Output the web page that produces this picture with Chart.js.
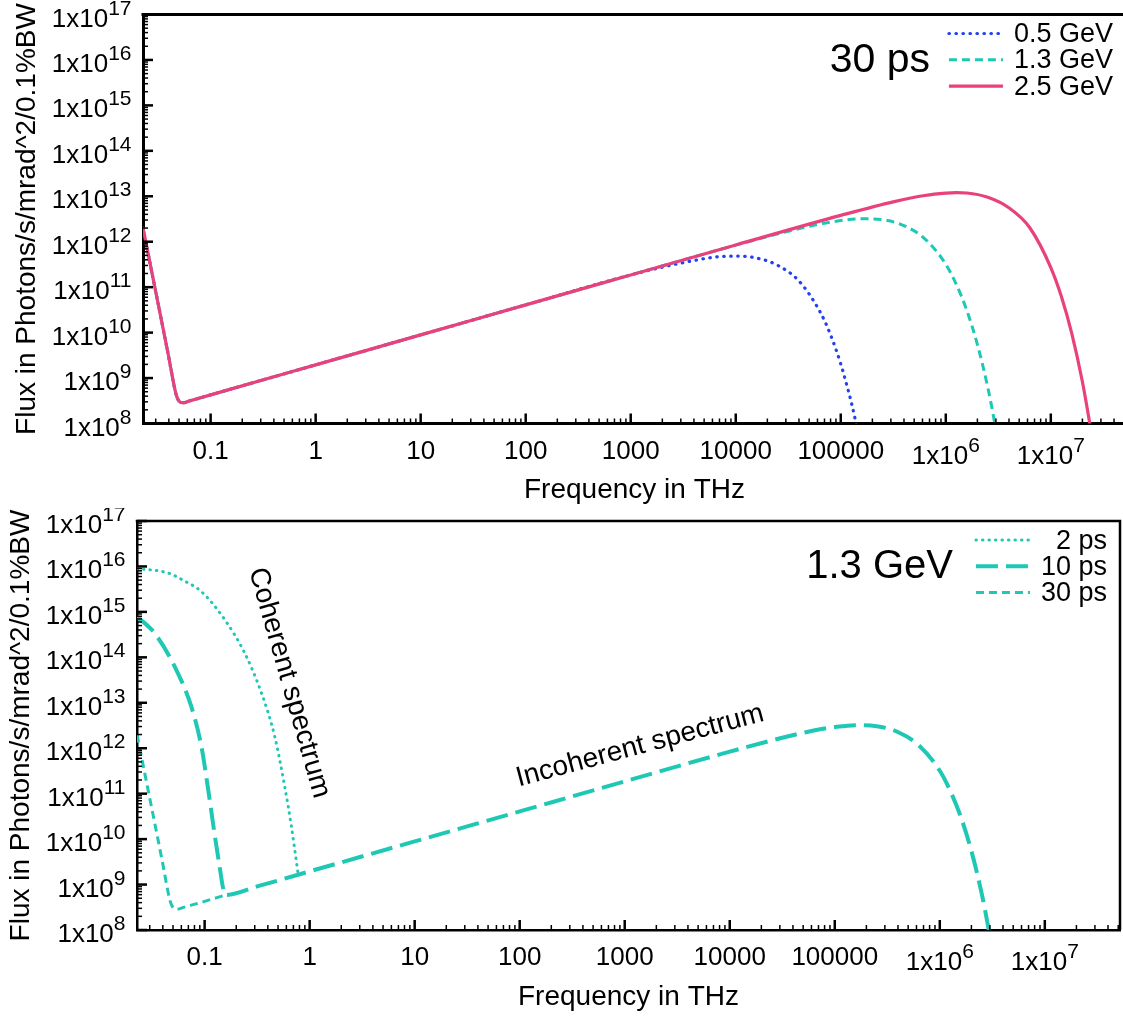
<!DOCTYPE html>
<html>
<head>
<meta charset="utf-8">
<script src="https://cdn.jsdelivr.net/npm/chart.js@4.4.1/dist/chart.umd.min.js"></script>
<style>
  html, body { margin: 0; padding: 0; background: #fff; overflow: hidden; }
  canvas { display: block; position: absolute; left: 0; }
  #top { top: 0; }
  #bottom { top: 508px; }
</style>
</head>
<body>
<canvas id="top" width="1130" height="508"></canvas>
<canvas id="bottom" width="1123" height="508"></canvas>
<script>
const FONT = "'Liberation Sans', Arial, sans-serif";

// frequency range shared by both panels (THz)
const freqMin = 0.0227;
const freqMax = 5.2e7;

const xTickValues = [0.1, 1, 10, 100, 1000, 1e4, 1e5, 1e6, 1e7];
const xTickLabels = ['0.1', '1', '10', '100', '1000', '10000', '100000', '1x10^6', '1x10^7'];
const yTickValues = [1e8, 1e9, 1e10, 1e11, 1e12, 1e13, 1e14, 1e15, 1e16, 1e17];
const yTickLabels = ['1x10^8', '1x10^9', '1x10^10', '1x10^11', '1x10^12', '1x10^13',
                     '1x10^14', '1x10^15', '1x10^16', '1x10^17'];

// 30 ps bunch: coherent drop, then start of the incoherent line
const lowFreq30ps = [0.0227, 0.0293, 0.0392, 0.0471, 0.0501, 0.0545, 0.0631, 0.1];
const lowFlux30ps = [2.0e12, 1.05e11, 3.6e9, 4.2e8, 3.1e8, 2.86e8, 3.15e8, 4.27e8];

// incoherent power law, same for every energy
const lineFreq = [1, 10, 100, 1000];
const lineFlux = [1.95e9, 8.9e9, 4.07e10, 1.86e11];

// high frequency bend for each energy
const bendFreq05 = [3162, 6310, 1e4, 15850, 25120, 39810, 63100, 79430, 1e5, 112200, 125900, 140000, 158500];
const bendFlux05 = [3.47e11, 4.57e11, 4.84e11, 4.37e11, 3.02e11, 1.38e11, 2.95e10, 9.3e9, 2.04e9, 8.1e8, 2.95e8, 1e8, 2.4e7];

const bendFreq13 = [1e4, 31620, 63100, 1e5, 158500, 251200, 398100, 631000, 1e6, 1.259e6, 1.585e6, 1.995e6, 2.512e6, 2.93e6, 3.16e6];
const bendFlux13 = [8.4e11, 1.7e12, 2.45e12, 2.92e12, 3.21e12, 3.05e12, 2.27e12, 1.16e12, 3.19e11, 1.15e11, 3.09e10, 5.6e9, 6.2e8, 1e8, 3.6e7];

const bendFreq25 = [1e4, 1e5, 316200, 631000, 1e6, 1.259e6, 1.585e6, 2.512e6, 3.98e6, 6.31e6, 1e7, 1.259e7, 1.585e7, 1.995e7, 2.35e7, 2.51e7];
const bendFlux25 = [8.5e11, 3.8e12, 7.55e12, 1.04e13, 1.17e13, 1.2e13, 1.18e13, 9.5e12, 5.6e12, 2.03e12, 2.7e11, 6.3e10, 9.5e9, 8.5e8, 1e8, 3.8e7];

// 1.3 GeV, shorter bunches
const cohFreq2ps = [0.0227, 0.0447, 0.0631, 0.0931, 0.155, 0.24, 0.347, 0.465, 0.578, 0.67, 0.778];
const cohFlux2ps = [9e15, 7.2e15, 4.9e15, 2.8e15, 6.8e14, 1.26e14, 1.66e13, 1.82e12, 1.45e11, 1.9e10, 1.65e9];

const cohFreq10ps = [0.0227, 0.0334, 0.0518, 0.0746, 0.0931, 0.107, 0.124, 0.139, 0.149, 0.158, 0.316];
const cohFlux10ps = [7.9e14, 3.4e14, 6.3e13, 8.3e12, 1.1e12, 1.45e11, 1.35e10, 2.45e9, 8.9e8, 5.9e8, 9.1e8];

const tailFreq30ps = [0.158];
const tailFlux30ps = [5.9e8];

const BLUE = '#2340f2';
const CYAN = '#1ec8b4';
const PINK = '#e8417b';

function pts(xs, ys) {
  return xs.map((x, i) => ({x: x, y: ys[i]}));
}

function logTicks(min, max) {
  const out = [];
  for (let e = Math.floor(Math.log10(min)); e <= Math.ceil(Math.log10(max)); e++) {
    for (let k = 1; k < 10; k++) {
      const v = k * Math.pow(10, e);
      if (v >= min && v <= max) out.push({value: v, major: k === 1});
    }
  }
  return out;
}

// "1x10^6" -> base text plus raised exponent
function drawLabel(ctx, text, px, baseY, align) {
  const parts = text.split('^');
  ctx.font = '26px ' + FONT;
  const wb = ctx.measureText(parts[0]).width;
  let we = 0;
  if (parts[1]) {
    ctx.font = '21px ' + FONT;
    we = ctx.measureText(parts[1]).width;
  }
  const x0 = align === 'right' ? px - wb - we : px - (wb + we) / 2;
  ctx.textAlign = 'left';
  ctx.textBaseline = 'alphabetic';
  ctx.font = '26px ' + FONT;
  ctx.fillText(parts[0], x0, baseY);
  if (parts[1]) {
    ctx.font = '21px ' + FONT;
    ctx.fillText(parts[1], x0 + wb, baseY - 12);
  }
}

const decor = {
  id: 'decor',
  afterDraw(chart, args, o) {
    const ctx = chart.ctx;
    const a = chart.chartArea;
    const xs = chart.scales.x;
    const ys = chart.scales.y;
    ctx.save();
    ctx.strokeStyle = '#000';
    ctx.fillStyle = '#000';

    ctx.lineWidth = o.frame;
    ctx.beginPath();
    ctx.moveTo(a.left - o.frame / 2, a.top);
    ctx.lineTo(a.right, a.top);
    ctx.lineTo(a.right, a.bottom);
    ctx.stroke();

    // ticks point into the plot
    for (const t of xs.ticks) {
      const p = xs.getPixelForValue(t.value);
      ctx.lineWidth = t.major ? 2.5 : 1.5;
      ctx.beginPath();
      ctx.moveTo(p, a.bottom);
      ctx.lineTo(p, a.bottom - (t.major ? 10 : 5));
      ctx.stroke();
    }
    for (const t of ys.ticks) {
      const p = ys.getPixelForValue(t.value);
      ctx.lineWidth = t.major ? 2.5 : 1.5;
      ctx.beginPath();
      ctx.moveTo(a.left, p);
      ctx.lineTo(a.left + (t.major ? 10 : 5), p);
      ctx.stroke();
    }

    xTickValues.forEach((v, i) => {
      const lab = xTickLabels[i];
      drawLabel(ctx, lab, xs.getPixelForValue(v), a.bottom + (lab.includes('^') ? 40 : 35), 'center');
    });
    yTickValues.forEach((v, i) => {
      drawLabel(ctx, yTickLabels[i], a.left - 11.5, ys.getPixelForValue(v) + 12, 'right');
    });

    // panel tag
    ctx.font = o.tagSize + 'px ' + FONT;
    ctx.textAlign = 'right';
    ctx.textBaseline = 'alphabetic';
    ctx.fillText(o.tag, a.right - o.tagRight, a.top + 57);

    // key
    const ds = chart.data.datasets;
    ctx.font = '27px ' + FONT;
    const textRight = a.right - 13;
    const maxW = Math.max(...ds.map(d => ctx.measureText(d.label).width));
    const sampleRight = textRight - maxW - 11;
    ds.forEach((d, i) => {
      const base = a.top + 27.5 + 26.3 * i;
      ctx.fillText(d.label, textRight, base);
      ctx.save();
      ctx.strokeStyle = d.borderColor;
      ctx.lineWidth = d.borderWidth;
      ctx.setLineDash(d.borderDash || []);
      ctx.lineCap = d.borderCapStyle || 'butt';
      ctx.beginPath();
      ctx.moveTo(sampleRight - 54, base - 8.5);
      ctx.lineTo(sampleRight, base - 8.5);
      ctx.stroke();
      ctx.restore();
    });

    (o.notes || []).forEach(n => {
      ctx.save();
      ctx.translate(xs.getPixelForValue(n.x), ys.getPixelForValue(n.y));
      ctx.rotate(n.angle * Math.PI / 180);
      ctx.font = '28px ' + FONT;
      ctx.textAlign = 'center';
      ctx.textBaseline = 'middle';
      ctx.fillText(n.text, 0, 0);
      ctx.restore();
    });
    ctx.restore();
  }
};

function scales(yWidth, xHeight, yTitlePad, xTitlePad, borderW) {
  return {
    x: {
      type: 'logarithmic',
      min: freqMin,
      max: freqMax,
      afterBuildTicks: s => { s.ticks = logTicks(s.min, s.max); },
      afterFit: s => { s.height = xHeight; },
      ticks: {display: false},
      grid: {display: true, drawOnChartArea: false, drawTicks: false},
      border: {display: true, color: '#000', width: borderW},
      title: {display: true, text: 'Frequency in THz', color: '#000',
              font: {family: FONT, size: 28}, padding: {top: 0, bottom: xTitlePad}}
    },
    y: {
      type: 'logarithmic',
      min: 1e8,
      max: 1e17,
      afterBuildTicks: s => { s.ticks = logTicks(s.min, s.max); },
      afterFit: s => { s.width = yWidth; },
      ticks: {display: false},
      grid: {display: true, drawOnChartArea: false, drawTicks: false},
      border: {display: true, color: '#000', width: borderW},
      title: {display: true, text: 'Flux in Photons/s/mrad^2/0.1%BW', color: '#000',
              font: {family: FONT, size: 28}, padding: {top: yTitlePad, bottom: 0}}
    }
  };
}

const common = {
  pointRadius: 0,
  fill: false,
  clip: 0,
  cubicInterpolationMode: 'monotone',
  borderJoinStyle: 'round'
};

new Chart(document.getElementById('top'), {
  type: 'line',
  data: {
    datasets: [
      Object.assign({}, common, {
        label: '0.5 GeV', order: 3,
        data: pts(lowFreq30ps.concat(lineFreq, bendFreq05), lowFlux30ps.concat(lineFlux, bendFlux05)),
        borderColor: BLUE, borderWidth: 3.2, borderDash: [0.5, 6.5], borderCapStyle: 'round'
      }),
      Object.assign({}, common, {
        label: '1.3 GeV', order: 2,
        data: pts(lowFreq30ps.concat(lineFreq, bendFreq13), lowFlux30ps.concat(lineFlux, bendFlux13)),
        borderColor: CYAN, borderWidth: 3, borderDash: [8, 5]
      }),
      Object.assign({}, common, {
        label: '2.5 GeV', order: 1,
        data: pts(lowFreq30ps.concat(lineFreq, bendFreq25), lowFlux30ps.concat(lineFlux, bendFlux25)),
        borderColor: PINK, borderWidth: 3.2
      })
    ]
  },
  options: {
    responsive: false,
    animation: false,
    events: [],
    layout: {padding: {left: 0, top: 14.5, right: 4, bottom: 0}},
    scales: scales(143, 84.5, 10.7, 1.2, 3),
    plugins: {
      legend: {display: false},
      tooltip: {enabled: false},
      decor: {frame: 3, tag: '30 ps', tagSize: 41, tagRight: 196}
    }
  },
  plugins: [decor]
});

new Chart(document.getElementById('bottom'), {
  type: 'line',
  data: {
    datasets: [
      Object.assign({}, common, {
        label: '2 ps',
        data: pts(cohFreq2ps, cohFlux2ps),
        borderColor: CYAN, borderWidth: 3, borderDash: [0.5, 6], borderCapStyle: 'round'
      }),
      Object.assign({}, common, {
        label: '10 ps',
        data: pts(cohFreq10ps.concat(lineFreq, bendFreq13), cohFlux10ps.concat(lineFlux, bendFlux13)),
        borderColor: CYAN, borderWidth: 4, borderDash: [22, 8]
      }),
      Object.assign({}, common, {
        label: '30 ps',
        data: pts(lowFreq30ps.concat(tailFreq30ps), lowFlux30ps.concat(tailFlux30ps)),
        borderColor: CYAN, borderWidth: 3, borderDash: [8, 5]
      })
    ]
  },
  options: {
    responsive: false,
    animation: false,
    events: [],
    layout: {padding: {left: 0, top: 13, right: 3, bottom: 0}},
    scales: scales(137, 86, 4.5, 2.2, 2.5),
    plugins: {
      legend: {display: false},
      tooltip: {enabled: false},
      decor: {
        frame: 2.5, tag: '1.3 GeV', tagSize: 40, tagRight: 167,
        notes: [
          {text: 'Coherent spectrum', x: 0.638, y: 2.75e13, angle: 74},
          {text: 'Incoherent spectrum', x: 1400, y: 1.12e12, angle: -15}
        ]
      }
    }
  },
  plugins: [decor]
});
</script>
</body>
</html>
